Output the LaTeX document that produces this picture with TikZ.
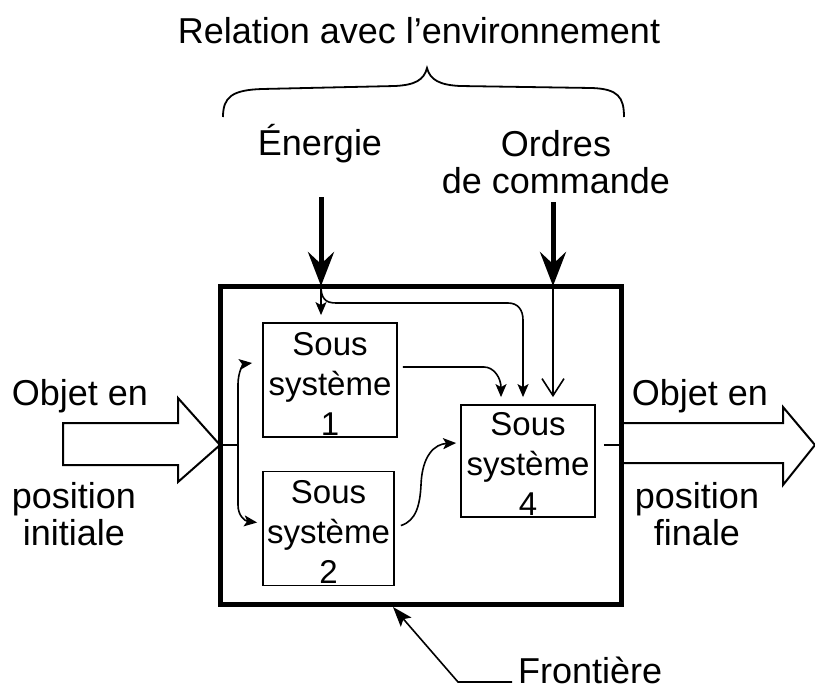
\documentclass[tikz,border=0pt]{standalone}
\usepackage{fontspec}
\setmainfont{Liberation Sans}
\usetikzlibrary{arrows.meta}
\tikzset{
  frontier/.style={draw, line width=5pt, outer sep=0pt, minimum width=401pt, minimum height=318pt},
  ssbox/.style={draw, line width=1.8pt, inner sep=2pt, minimum width=134pt, minimum height=110pt, align=center, font=\fontsize{33}{40}\selectfont},
  lbl/.style={font=\fontsize{36}{37}\selectfont, align=center, inner sep=0pt},
  thinline/.style={line width=1.6pt},
  thinarr/.style={thinline, -{Stealth[length=13pt,width=11pt,inset=3pt]}},
  bigarr/.style={line width=5pt, -{Stealth[length=34pt,width=26pt,inset=12pt]}},
  hollow/.style={draw, line width=2pt, line join=miter},
}
\begin{document}
\begin{tikzpicture}[x=1pt,y=-1pt]
\useasboundingbox (0,0) rectangle (815,689);

% frontier and subsystems
\node[frontier] (fr) at (420.5,445) {};
\node[ssbox] (ss1) at (330,380) {\rule{0pt}{30pt}Sous\\système\\1};
\node[ssbox, minimum width=131pt, minimum height=111pt] (ss2) at (328.5,528.5) {\rule{0pt}{30pt}Sous\\système\\2};
\node[ssbox, minimum height=112pt] (ss4) at (528,461) {\rule{0pt}{28pt}Sous\\système\\4};

% labels
\node[lbl, anchor=base] (title) at (419,43) {Relation avec l'environnement};
\node[lbl, anchor=base] (energie) at (320,155) {Énergie};
\node[lbl, anchor=base] (ordres) at (556,193) {Ordres\\de commande};
\node[lbl, anchor=base] (objin) at (80,405) {Objet en};
\node[lbl, anchor=base] (posin) at (74,545) {position\\initiale};
\node[lbl, anchor=base] (objout) at (700,405) {Objet en};
\node[lbl, anchor=base] (posout) at (697,545) {position\\finale};
\node[lbl, anchor=base west] (front) at (518,683) {Frontière};

% brace
\draw[line width=1.8pt] (223,117) .. controls (223,97) and (232,90) .. (262,89) -- (395,86)
  .. controls (415,85) and (424,80) .. (427,68)
  .. controls (430,80) and (440,85) .. (460,86) -- (592,88)
  .. controls (618,89) and (624,97) .. (624,117);

% energy and orders inputs
\coordinate (e0) at (321,197);
\coordinate (o0) at (553,202);
\draw[bigarr] (e0) -- (e0 |- fr.north);
\draw[bigarr] (o0) -- (o0 |- fr.north);

% energy distribution
\draw[thinarr, shorten >=7pt] (e0 |- fr.north) -- (e0 |- ss1.north);
\draw[thinarr, shorten >=7pt] (e0 |- fr.north) .. controls (321,298) and (325,303) .. (336,303) -- (508,303)
  .. controls (518,303) and (523,310) .. (523,320) -- ([shift={(-5,0)}]ss4.north);
% orders
\draw[thinline, -{Straight Barb[length=17pt,width=22pt]}, shorten >=7pt] (o0 |- fr.north) -- (o0 |- ss4.north);

% SS1 -> SS4
\draw[thinarr] ([shift={(5,-13)}]ss1.east) -- (484,367) .. controls (494,367) and (501,378) .. ([shift={(-27,-7)}]ss4.north);
% SS2 -> SS4
\draw[thinarr] ([shift={(6,-3)}]ss2.east) .. controls (416,521) and (420,505) .. (421,485)
  .. controls (422,455) and (435,444) .. ([shift={(-4,-18)}]ss4.west);
% SS4 -> frontier
\draw[thinline] ([shift={(8,-16)}]ss4.east) -- (fr.east);

% input distribution
\coordinate (j) at (238,445);
\draw[thinline] (fr.west) -- (j);
\draw[thinarr] (j) -- (238,385) .. controls (238,370) and (244,364) .. ([shift={(-10,-17)}]ss1.west);
\draw[thinarr] (j) -- (238,505) .. controls (238,516) and (245,521) .. ([shift={(-5,-6)}]ss2.west);

% big hollow arrows
\draw[hollow] (63,423) -- (178,423) -- (178,398) -- (fr.west) -- (178,482) -- (178,465) -- (63,465) -- cycle;
\draw[hollow] (fr.east |- 0,423) -- (783,423) -- (783,407) -- (815,445) -- (783,485) -- (783,463) -- (fr.east |- 0,463);

% frontier pointer
\draw[thinline, {Stealth[length=20pt,width=14pt,inset=4pt]}-] ([shift={(-27.5,3)}]fr.south) -- (458,682) -- ([shift={(-6,-1)}]front.base west);
\end{tikzpicture}
\end{document}
